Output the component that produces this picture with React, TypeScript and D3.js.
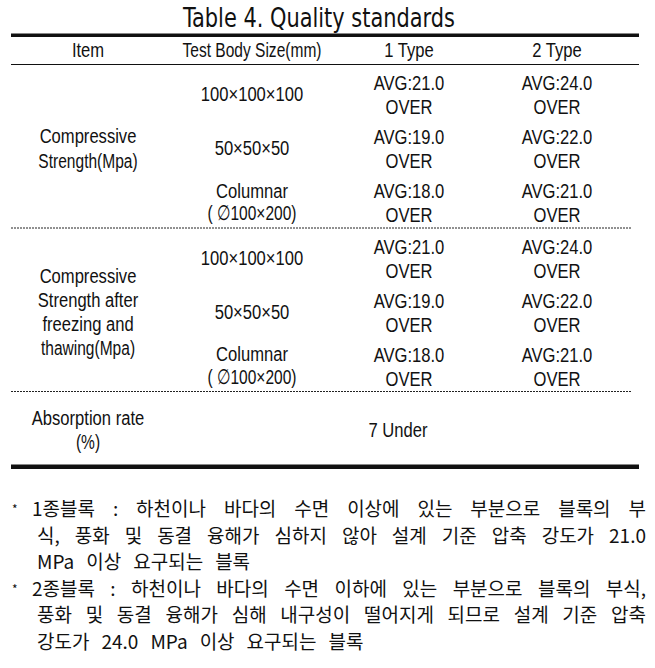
import React, { useEffect, useRef } from "react";
import * as d3 from "d3";

const title = "Table 4. Quality standards";
const columns = ["Item", "Test Body Size(mm)", "1 Type", "2 Type"];
const groupLabels = [
  ["Compressive", "Strength(Mpa)"],
  ["Compressive", "Strength after", "freezing and", "thawing(Mpa)"],
];
const sizes = [["100×100×100"], ["50×50×50"], ["Columnar", "( ∅100×200)"]];
const type1 = ["21.0", "19.0", "18.0"];
const type2 = ["24.0", "22.0", "21.0"];
const absorptionLabel = ["Absorption rate", "(%)"];
const absorptionValue = "7 Under";
const notes = [
  { star: true, text: "1종블록 : 하천이나 바다의 수면 이상에 있는 부분으로 블록의 부", justify: true },
  { star: false, text: "식, 풍화 및 동결 융해가 심하지 않아 설계 기준 압축 강도가 21.0", justify: true },
  { star: false, text: "MPa 이상 요구되는 블록", justify: false },
  { star: true, text: "2종블록 : 하천이나 바다의 수면 이하에 있는 부분으로 블록의 부식,", justify: true },
  { star: false, text: "풍화 및 동결 융해가 심해 내구성이 떨어지게 되므로 설계 기준 압축", justify: true },
  { star: false, text: "강도가 24.0 MPa 이상 요구되는 블록", justify: false },
];

const W = 655;
const H = 668;
const TABLE_FONT = "'Liberation Sans', Arial, sans-serif";
const KO_FONT = "'Noto Sans CJK KR', sans-serif";
const INK = "#111";

export default function App() {
  const ref = useRef<SVGSVGElement | null>(null);

  useEffect(() => {
    const svg = d3.select(ref.current);
    svg.selectAll("*").remove();

    const colX = d3.scaleOrdinal<string, number>().domain(columns).range([88, 252, 409, 557]);
    const left = 11;
    const right = 639;

    // title, squeezed to the reference width
    const tt = svg.append("text")
      .attr("text-anchor", "middle")
      .attr("font-family", "'DejaVu Sans Condensed', sans-serif")
      .attr("font-size", 26).attr("fill", INK)
      .text(title);
    const tl = (tt.node() as SVGTextElement).getComputedTextLength();
    tt.attr("transform", `translate(319,27) scale(${272 / tl},1)`);

    // rules
    svg.append("rect").attr("x", left).attr("y", 33.5).attr("width", right - left).attr("height", 3.5).attr("fill", INK);
    svg.append("line").attr("x1", left).attr("x2", right).attr("y1", 64.5).attr("y2", 64.5).attr("stroke", INK).attr("stroke-width", 1);
    svg.append("rect").attr("x", left).attr("y", 464.5).attr("width", right - left).attr("height", 4.5).attr("fill", INK);

    const cell = (x: number, baseline: number, str: string) => {
      const sx = str.includes("(") ? 0.74 : 0.79;
      svg.append("text")
        .attr("text-anchor", "middle")
        .attr("transform", `translate(${x},${baseline}) scale(${sx},1)`)
        .attr("font-family", TABLE_FONT).attr("font-size", 21).attr("fill", INK)
        .text(str);
    };
    const lines = (x: number, firstBaseline: number, strs: string[], gap: number) => {
      strs.forEach((s, i) => cell(x, firstBaseline + i * gap, s));
    };

    // header
    columns.forEach((c) => cell(colX(c), 56.5, c));

    // two groups of three rows
    const rowStep = 54;
    const groupTops = [64.5, 228];
    groupTops.forEach((top, g) => {
      const rowY = d3.scaleLinear().domain([0, 1]).range([top, top + rowStep]);
      sizes.forEach((s, i) => {
        const base = rowY(i);
        if (s.length === 1) cell(colX(columns[1]), base + 36.5, s[0]);
        else lines(colX(columns[1]), base + 25, s, 22.5);
        lines(colX(columns[2]), base + 25.5, ["AVG:" + type1[i], "OVER"], 24);
        lines(colX(columns[3]), base + 25.5, ["AVG:" + type2[i], "OVER"], 24);
      });
      const lbl = groupLabels[g];
      const gap = 24.3;
      const mid = top + 91;
      lines(colX(columns[0]), mid - ((lbl.length - 1) * gap) / 2, lbl, gap);
      const yd = top + 163.5;
      svg.append("line").attr("x1", left).attr("x2", right - 7).attr("y1", yd).attr("y2", yd)
        .attr("stroke", "#222").attr("stroke-width", 1).attr("stroke-dasharray", "2,1");
    });

    // absorption row
    lines(colX(columns[0]), 425, absorptionLabel, 23.5);
    cell(398, 437, absorptionValue);

    // notes
    const noteY = d3.scaleLinear().domain([0, 1]).range([507.5, 534]);
    notes.forEach((n, i) => {
      const y = noteY(i);
      const x0 = n.star ? 32 : 37;
      const x1 = 646;
      if (n.star) {
        svg.append("text").attr("x", 12).attr("y", y + 1).attr("dominant-baseline", "central")
          .attr("font-family", KO_FONT).attr("font-size", 12).attr("fill", INK).text("*");
      }
      const words = n.text.split(" ");
      const t = svg.append("text")
        .attr("font-family", KO_FONT).attr("font-size", 19).attr("fill", INK);
      const spans = words.map((w) => t.append("tspan").attr("y", y).attr("dominant-baseline", "central").text(w));
      const widths = spans.map((s) => (s.node() as SVGTSpanElement).getComputedTextLength());
      const total = d3.sum(widths);
      const gap = n.justify ? (x1 - x0 - total) / (words.length - 1) : 12;
      let x = x0;
      spans.forEach((s, k) => {
        s.attr("x", x);
        x += widths[k] + gap;
      });
    });
  }, []);

  return (
    <svg ref={ref} width={W} height={H} style={{ position: "absolute", left: 0, top: 0, background: "#fff" }} />
  );
}
